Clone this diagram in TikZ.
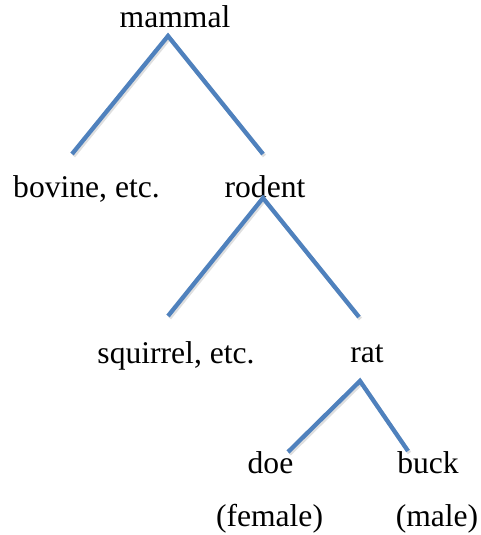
\documentclass[tikz,border=0pt]{standalone}
\usepackage{fontspec}
\setmainfont{Liberation Serif}
\begin{document}
\begin{tikzpicture}[x=1pt,y=-1pt,
  lbl/.style={anchor=base,inner sep=0pt,font=\fontsize{31.6}{38}\selectfont},
  branch/.style={draw=bluebranch,line width=4.3pt,line join=miter},
  shadowline/.style={draw=black!25,line width=4pt,opacity=0.5}]
\definecolor{bluebranch}{HTML}{4F81BD}
\useasboundingbox (0,0) rectangle (480,535);
\node[lbl] (mammal) at (175,28) {mammal};
\node[lbl] (bovine) at (86.5,197) {bovine, etc.};
\node[lbl] (rodent) at (265,197) {rodent};
\node[lbl] (squirrel) at (176,363) {squirrel, etc.};
\node[lbl] (rat) at (367,362) {rat};
\node[lbl] (doe) at (270.5,473) {doe};
\node[lbl] (buck) at (428,473) {buck};
\node[lbl] (female) at (269.5,526) {(female)};
\node[lbl] (male) at (437,526) {(male)};
% branch points
\coordinate (a1) at (168,36);
\coordinate (l1) at (72,154);
\coordinate (r1) at (263,154);
\coordinate (a2) at (263,198);
\coordinate (l2) at (168,316);
\coordinate (r2) at (359,317);
\coordinate (a3) at (360,381);
\coordinate (l3) at (288,452);
\coordinate (r3) at (408,451);
% soft shadows
\begin{scope}[shift={(1.5,2)}]
\draw[shadowline] (72,154) -- (168,36) -- (263,154);
\draw[shadowline] (168,316) -- (263,198) -- (359,317);
\draw[shadowline] (288,452) -- (360,381) -- (408,451);
\end{scope}
\draw[branch] (l1) -- (a1) -- (r1);
\draw[branch] (l2) -- (a2) -- (r2);
\draw[branch] (l3) -- (a3) -- (r3);
\end{tikzpicture}
\end{document}
